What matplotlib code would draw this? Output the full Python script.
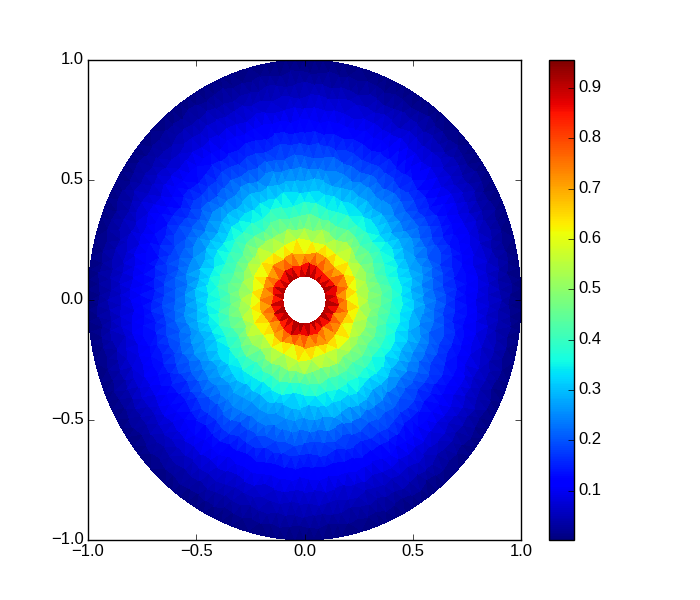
import numpy as np
import matplotlib
matplotlib.use("Agg")
import matplotlib.pyplot as plt
from matplotlib.ticker import FormatStrFormatter
from matplotlib.transforms import ScaledTranslation
from matplotlib.tri import Triangulation

plt.rcParams['font.family'] = ['Liberation Sans', 'DejaVu Sans']

# Radii of the mesh rings and how many nodes each ring carries
ring_radii = [0.10, 0.15, 0.20, 0.25, 0.30, 0.35, 0.40, 0.45, 0.50, 0.55,
              0.60, 0.65, 0.70, 0.75, 0.80, 0.85, 0.90, 0.95, 1.00]
ring_nodes = [24, 24, 24, 24, 48, 48, 48, 72, 72, 84,
              84, 96, 96, 108, 108, 120, 132, 132, 144]

# Irregular mesh look: radial shift of interior nodes, in ring spacings
node_shift = [0.10, -0.14, 0.04, -0.07, 0.16, -0.02, -0.12, 0.08, 0.14, -0.17, 0.01]

# Field values, one row per ring, counter-clockwise
# from +x, by equal angular sectors.
ring_values = [
    [0.956],
    [0.81, 0.84, 0.78, 0.82, 0.79, 0.85, 0.77, 0.81, 0.84, 0.78, 0.83, 0.80,
     0.78, 0.84, 0.80, 0.77, 0.83, 0.85, 0.79, 0.82, 0.78, 0.84, 0.80, 0.83],
    [0.69, 0.67, 0.70, 0.66, 0.70, 0.68, 0.66, 0.69, 0.67, 0.70, 0.66, 0.69,
     0.68, 0.66, 0.70, 0.67, 0.69, 0.66, 0.70, 0.68, 0.66, 0.69, 0.67, 0.70],
    [0.59, 0.57, 0.58, 0.60, 0.56, 0.57, 0.59, 0.56, 0.58, 0.60, 0.57, 0.56,
     0.58, 0.60, 0.57, 0.58, 0.56, 0.59, 0.57, 0.60, 0.58, 0.56, 0.59, 0.57],
    [0.51, 0.50, 0.49, 0.51, 0.48, 0.50, 0.49, 0.48, 0.50, 0.51, 0.49, 0.48,
     0.50, 0.49, 0.51, 0.48, 0.49, 0.50, 0.48, 0.51, 0.49, 0.50, 0.51, 0.49],
    [0.445, 0.435, 0.428, 0.432, 0.418, 0.426, 0.414, 0.428, 0.418, 0.436, 0.428, 0.438,
     0.442, 0.426, 0.428, 0.408, 0.412, 0.404, 0.418, 0.424, 0.436, 0.446, 0.438, 0.452],
    [0.398, 0.384, 0.376, 0.378, 0.366, 0.362, 0.366, 0.376, 0.368, 0.382, 0.376, 0.388,
     0.386, 0.372, 0.368, 0.356, 0.352, 0.344, 0.356, 0.372, 0.378, 0.392, 0.388, 0.402],
    [0.348, 0.336, 0.328, 0.324, 0.316, 0.314, 0.318, 0.322, 0.326, 0.328, 0.334, 0.338,
     0.334, 0.322, 0.318, 0.306, 0.298, 0.296, 0.306, 0.322, 0.334, 0.338, 0.346, 0.352],
    [0.302, 0.288, 0.284, 0.276, 0.274, 0.278, 0.276, 0.282, 0.278, 0.286, 0.288, 0.296,
     0.294, 0.282, 0.274, 0.266, 0.258, 0.256, 0.268, 0.282, 0.286, 0.298, 0.296, 0.308],
    [0.258, 0.246, 0.238, 0.236, 0.242, 0.238, 0.248, 0.244, 0.232, 0.226, 0.236, 0.256],
    [0.218, 0.206, 0.198, 0.196, 0.202, 0.208, 0.212, 0.204, 0.194, 0.190, 0.206, 0.222],
    [0.182, 0.172, 0.166, 0.164, 0.170, 0.176, 0.178, 0.170, 0.162, 0.160, 0.174, 0.184],
    [0.150, 0.142, 0.136, 0.134, 0.140, 0.146, 0.148, 0.138, 0.132, 0.130, 0.144, 0.152],
    [0.122, 0.116, 0.110, 0.108, 0.112, 0.118, 0.120, 0.114, 0.106, 0.104, 0.116, 0.124],
    [0.094, 0.090, 0.084, 0.082, 0.086, 0.092, 0.094, 0.088, 0.080, 0.078, 0.090, 0.096],
    [0.070, 0.066, 0.062, 0.060, 0.064, 0.068, 0.070, 0.064, 0.058, 0.058, 0.066, 0.072],
    [0.046, 0.044, 0.040, 0.040, 0.042, 0.046, 0.046, 0.042, 0.038, 0.038, 0.044, 0.048],
    [0.024, 0.022, 0.020, 0.020, 0.022, 0.024, 0.024, 0.022, 0.020, 0.020, 0.022, 0.024],
    [0.002],
]

axis_ticks = [-1.0, -0.5, 0.0, 0.5, 1.0]
colorbar_ticks = [0.1, 0.2, 0.3, 0.4, 0.5, 0.6, 0.7, 0.8, 0.9]

xs, ys, zs, ring_id = [], [], [], []
spacing = ring_radii[1] - ring_radii[0]
last = len(ring_radii) - 1
offset = 0
for k, (radius, count, row) in enumerate(zip(ring_radii, ring_nodes, ring_values)):
    step = 2 * np.pi / count
    angles = np.arange(count) * step + (k % 2) * step / 2
    radii = np.full(count, radius)
    if 0 < k < last:
        picks = (np.arange(count) + offset) % len(node_shift)
        radii = radii + np.take(node_shift, picks) * spacing
    offset += 3
    xs.append(radii * np.cos(angles))
    ys.append(radii * np.sin(angles))
    zs.append(np.repeat(row, count // len(row)))
    ring_id.append(np.full(count, k))
xs, ys, zs, ring_id = map(np.concatenate, (xs, ys, zs, ring_id))

tri = Triangulation(xs, ys)
tri.set_mask(np.all(ring_id[tri.triangles] == 0, axis=1))

fig = plt.figure(figsize=(7, 6), dpi=100, facecolor='white')
ax = fig.add_axes([88 / 700, 60 / 600, 433 / 700, 480 / 600])
mesh = ax.tripcolor(tri, zs, cmap='jet', shading='flat', vmin=0.002, vmax=0.956,
                    edgecolors='none')
ax.set_xlim(-1, 1)
ax.set_ylim(-1, 1)
ax.set_xticks(axis_ticks)
ax.set_yticks(axis_ticks)
ax.tick_params(direction='in', top=True, right=True, length=4, width=0.5,
               labelsize=12, pad=3)
for spine in ax.spines.values():
    spine.set_linewidth(1.0)

cax = fig.add_axes([549 / 700, 60 / 600, 25 / 700, 480 / 600])
cbar = fig.colorbar(mesh, cax=cax, ticks=colorbar_ticks)
cbar.ax.tick_params(direction='in', length=4, width=0.5, labelsize=12, pad=3)
cbar.ax.yaxis.set_major_formatter(FormatStrFormatter('%.1f'))
cbar.outline.set_linewidth(1.0)

# Tick labels sit about two pixels above their ticks in the reference
raise_labels = ScaledTranslation(0, 2 / fig.dpi, fig.dpi_scale_trans)
for label in list(ax.get_yticklabels()) + list(cbar.ax.get_yticklabels()):
    label.set_transform(label.get_transform() + raise_labels)

fig.savefig('out.png', dpi=100)
